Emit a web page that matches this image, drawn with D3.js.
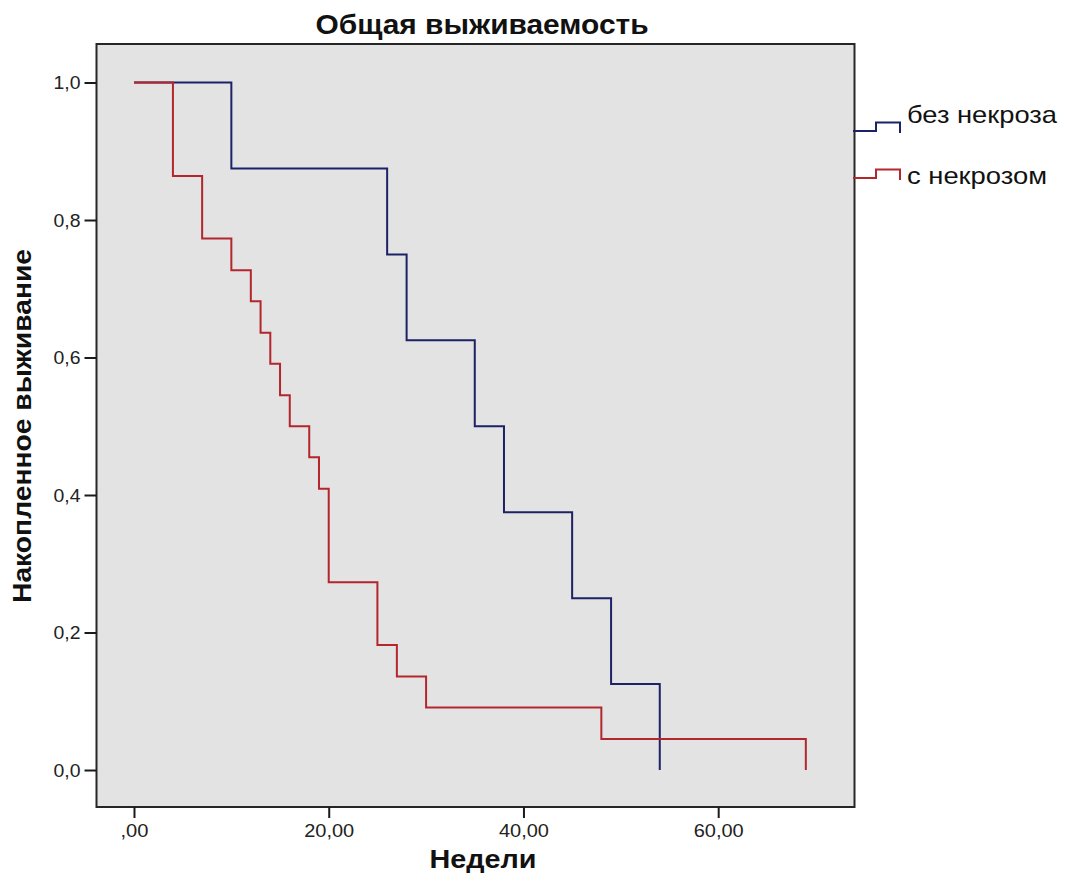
<!DOCTYPE html>
<html>
<head>
<meta charset="utf-8">
<script src="https://cdn.jsdelivr.net/npm/d3@7"></script>
<style>
  html, body { margin: 0; padding: 0; background: #ffffff; }
  svg { display: block; font-family: "Liberation Sans", Arial, sans-serif; }
</style>
</head>
<body>
<svg id="chart" width="1069" height="896"></svg>
<script>
// Kaplan–Meier survival: time in weeks, cumulative survival after each event
const groupNames = ["без некроза", "с некрозом"];
const groupColors = ["#1d2266", "#b3262c"];

const weeksNoNecrosis = [0, 10, 26, 28, 35, 38, 45, 49, 54];
const survivalNoNecrosis = [1, 0.875, 0.75, 0.625, 0.5, 0.375, 0.25, 0.125, 0];

const weeksNecrosis = [0, 4, 7, 10, 12, 13, 14, 15, 16, 18, 19, 20, 25, 27, 30, 48, 69];
const survivalNecrosis = [1, 0.864, 0.773, 0.727, 0.682, 0.636, 0.591, 0.545, 0.5,
                          0.455, 0.409, 0.273, 0.182, 0.136, 0.091, 0.045, 0];

const xTicks = [0, 20, 40, 60];
const xTickLabels = [",00", "20,00", "40,00", "60,00"];
const yTicks = [0, 0.2, 0.4, 0.6, 0.8, 1.0];
const yTickLabels = ["0,0", "0,2", "0,4", "0,6", "0,8", "1,0"];

const titleText = "Общая выживаемость";
const xTitle = "Недели";
const yTitle = "Накопленное выживание";

const svg = d3.select("#chart");
const frame = { left: 96.5, right: 854.5, top: 44, bottom: 807 };

const x = d3.scaleLinear().domain([-3.85, 74]).range([frame.left, frame.right]);
const y = d3.scaleLinear().domain([-0.0538, 1.056]).range([frame.bottom, frame.top]);

// plot background and frame
svg.append("rect")
  .attr("x", frame.left).attr("y", frame.top)
  .attr("width", frame.right - frame.left).attr("height", frame.bottom - frame.top)
  .attr("fill", "#e3e3e3").attr("stroke", "#262626").attr("stroke-width", 2);

// axes
const xAxis = d3.axisBottom(x).tickValues(xTicks)
  .tickFormat((d, i) => xTickLabels[i]).tickSize(11).tickPadding(6);
const yAxis = d3.axisLeft(y).tickValues(yTicks)
  .tickFormat((d, i) => yTickLabels[i]).tickSize(12).tickPadding(4);

const gx = svg.append("g").attr("transform", `translate(0,${frame.bottom})`).call(xAxis);
const gy = svg.append("g").attr("transform", `translate(${frame.left},0)`).call(yAxis);
[gx, gy].forEach(g => {
  g.select(".domain").remove();
  g.selectAll(".tick line").attr("stroke", "#1a1a1a").attr("stroke-width", 2);
  g.selectAll(".tick text").attr("fill", "#222").style("font-size", "19px")
    .style("font-family", "'Liberation Sans', Arial, sans-serif");
});
gy.selectAll(".tick text").attr("textLength", 27).attr("lengthAdjust", "spacingAndGlyphs");
gx.selectAll(".tick text").attr("textLength", (d, i) => i === 0 ? 28 : 50)
  .attr("lengthAdjust", "spacingAndGlyphs");

// survival step curves
const series = [
  { t: weeksNoNecrosis, s: survivalNoNecrosis },
  { t: weeksNecrosis, s: survivalNecrosis }
];
const stepLine = d3.line()
  .x(d => x(d[0])).y(d => y(d[1]))
  .curve(d3.curveStepAfter);

series.forEach((ser, i) => {
  const pts = ser.t.map((t, k) => [t, ser.s[k]]);
  svg.append("path")
    .attr("d", stepLine(pts))
    .attr("fill", "none")
    .attr("stroke", groupColors[i])
    .attr("stroke-width", 2);
});

// legend: step glyph plus label
const legendX = 853, legendGlyphY = [131, 178], legendTextY = [123, 184];
groupNames.forEach((name, i) => {
  const y0 = legendGlyphY[i];
  const glyph = [[0, 0], [23, 0], [23, -8.5], [47, -8.5], [47, 2]];
  svg.append("path")
    .attr("d", d3.line()(glyph.map(p => [legendX + p[0], y0 + p[1]])))
    .attr("fill", "none").attr("stroke", groupColors[i]).attr("stroke-width", 2);
  svg.append("text")
    .attr("x", legendX + 54).attr("y", legendTextY[i])
    .attr("textLength", i === 0 ? 150 : 140).attr("lengthAdjust", "spacingAndGlyphs")
    .style("font-size", "24px").attr("fill", "#111")
    .text(name);
});

// titles
svg.append("text")
  .attr("x", 482).attr("y", 34).attr("text-anchor", "middle")
  .attr("textLength", 333).attr("lengthAdjust", "spacingAndGlyphs")
  .style("font-size", "27px").style("font-weight", "bold").attr("fill", "#111")
  .text(titleText);

svg.append("text")
  .attr("x", 483).attr("y", 868).attr("text-anchor", "middle")
  .attr("textLength", 107).attr("lengthAdjust", "spacingAndGlyphs")
  .style("font-size", "25px").style("font-weight", "bold").attr("fill", "#111")
  .text(xTitle);

svg.append("text")
  .attr("transform", "translate(31,426) rotate(-90)")
  .attr("text-anchor", "middle")
  .attr("textLength", 354).attr("lengthAdjust", "spacingAndGlyphs")
  .style("font-size", "25px").style("font-weight", "bold").attr("fill", "#111")
  .text(yTitle);
</script>
</body>
</html>
